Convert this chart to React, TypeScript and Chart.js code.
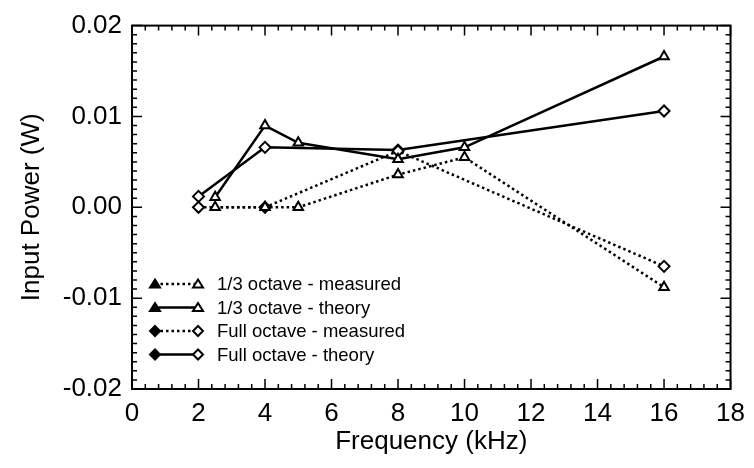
import React, { useEffect, useRef } from "react";
import { Chart, registerables } from "chart.js";

Chart.register(...registerables);

const thirdFreq = [2.5, 4, 5, 8, 10, 16];
const thirdMeasured = [0.0, 0.0, 0.0, 0.0036, 0.0055, -0.0088];
const thirdTheory = [0.0011, 0.009, 0.0071, 0.0053, 0.0066, 0.0166];
const fullFreq = [2, 4, 8, 16];
const fullMeasured = [0.0, 0.0, 0.0062, -0.0065];
const fullTheory = [0.0012, 0.0066, 0.0063, 0.0106];

const legendLabels = [
  "1/3 octave - measured",
  "1/3 octave - theory",
  "Full octave - measured",
  "Full octave - theory",
];
const yTickValues = [-0.02, -0.01, 0, 0.01, 0.02];
const xTickValues = [0, 2, 4, 6, 8, 10, 12, 14, 16, 18];

const FONT = "'Liberation Sans', Arial, Helvetica, sans-serif";

function pts(xs: number[], ys: number[]) {
  return xs.map((x, i) => ({ x, y: ys[i] }));
}

function drawMarker(ctx: CanvasRenderingContext2D, style: string, x: number, y: number, r: number, filled: boolean) {
  ctx.save();
  ctx.beginPath();
  if (style === "triangle") {
    const h = r * 1.5;
    ctx.moveTo(x, y - h * 0.6);
    ctx.lineTo(x + r * 1.0, y + h * 0.45);
    ctx.lineTo(x - r * 1.0, y + h * 0.45);
    ctx.closePath();
  } else {
    ctx.moveTo(x, y - r);
    ctx.lineTo(x + r, y);
    ctx.lineTo(x, y + r);
    ctx.lineTo(x - r, y);
    ctx.closePath();
  }
  ctx.fillStyle = filled ? "#000" : "#fff";
  ctx.fill();
  ctx.lineWidth = 2;
  ctx.strokeStyle = "#000";
  ctx.setLineDash([]);
  ctx.stroke();
  ctx.restore();
}

const framePlugin = {
  id: "frameTicks",
  afterDatasetsDraw(chart: any) {
    const { ctx, chartArea, scales } = chart;
    const { left, right, top, bottom } = chartArea;
    const xs = scales.x;
    const ys = scales.y;
    ctx.save();
    ctx.strokeStyle = "#000";
    ctx.lineWidth = 2;
    ctx.setLineDash([]);
    ctx.strokeRect(left, top, right - left, bottom - top);
    ctx.lineWidth = 1.5;
    for (let i = 0; i <= 45; i++) {
      const v = i * 0.4;
      const len = i % 5 === 0 ? 10 : 5;
      const px = xs.getPixelForValue(v);
      ctx.beginPath();
      ctx.moveTo(px, bottom);
      ctx.lineTo(px, bottom - len);
      ctx.moveTo(px, top);
      ctx.lineTo(px, top + len);
      ctx.stroke();
    }
    for (let i = -20; i <= 20; i++) {
      const v = i * 0.001;
      const len = i % 10 === 0 ? 10 : 5;
      const py = ys.getPixelForValue(v);
      ctx.beginPath();
      ctx.moveTo(left, py);
      ctx.lineTo(left + len, py);
      ctx.moveTo(right, py);
      ctx.lineTo(right - len, py);
      ctx.stroke();
    }
    // legend
    const lx0 = 155;
    const lx1 = 198;
    const rowY = [284, 307.5, 331, 354.5];
    ctx.font = `18.5px ${FONT}`;
    ctx.fillStyle = "#000";
    ctx.textBaseline = "middle";
    ctx.textAlign = "left";
    chart.data.datasets.forEach((ds: any, i: number) => {
      const y = rowY[i];
      ctx.beginPath();
      ctx.lineWidth = ds.borderWidth;
      ctx.setLineDash(ds.borderDash || []);
      ctx.moveTo(lx0, y);
      ctx.lineTo(lx1, y);
      ctx.stroke();
      ctx.setLineDash([]);
      drawMarker(ctx, ds.pointStyle, lx0, y, 5, true);
      drawMarker(ctx, ds.pointStyle, lx1, y, 5, false);
      ctx.fillText(ds.label, 217, y + 1);
    });
    ctx.restore();
  },
};

export default function App() {
  const ref = useRef<HTMLCanvasElement | null>(null);
  useEffect(() => {
    document.body.style.margin = "0";
    const canvas = ref.current!;
    const common = {
      borderColor: "#000",
      pointBackgroundColor: "#fff",
      pointBorderColor: "#000",
      pointBorderWidth: 2,
      pointRadius: 5.5,
      fill: false,
      tension: 0,
    };
    const chart = new Chart(canvas, {
      type: "scatter",
      data: {
        datasets: [
          {
            ...common,
            label: legendLabels[0],
            data: pts(thirdFreq, thirdMeasured),
            showLine: true,
            borderWidth: 2.5,
            borderDash: [2.5, 3],
            pointStyle: "triangle",
          },
          {
            ...common,
            label: legendLabels[1],
            data: pts(thirdFreq, thirdTheory),
            showLine: true,
            borderWidth: 2.5,
            pointStyle: "triangle",
          },
          {
            ...common,
            label: legendLabels[2],
            data: pts(fullFreq, fullMeasured),
            showLine: true,
            borderWidth: 2.5,
            borderDash: [2.5, 3],
            pointStyle: "rectRot",
          },
          {
            ...common,
            label: legendLabels[3],
            data: pts(fullFreq, fullTheory),
            showLine: true,
            borderWidth: 2.5,
            pointStyle: "rectRot",
          },
        ] as any,
      },
      options: {
        responsive: false,
        animation: false,
        layout: { padding: { top: 14, right: 19, left: 0, bottom: 0 } },
        plugins: { legend: { display: false }, tooltip: { enabled: false } },
        scales: {
          x: {
            type: "linear",
            min: 0,
            max: 18,
            afterFit: (s: any) => {
              s.height = 79;
            },
            afterBuildTicks: (s: any) => {
              s.ticks = xTickValues.map((v) => ({ value: v }));
            },
            grid: { display: false, drawTicks: false },
            border: { display: false },
            ticks: {
              color: "#000",
              font: { family: FONT, size: 26 },
              padding: 9,
              maxRotation: 0,
              callback: (v: any) => String(v),
            },
            title: {
              display: true,
              text: "Frequency (kHz)",
              color: "#000",
              font: { family: FONT, size: 26 },
              padding: { top: 0, bottom: 11 },
            },
          },
          y: {
            type: "linear",
            min: -0.02,
            max: 0.02,
            afterFit: (s: any) => {
              s.width = 132;
            },
            afterBuildTicks: (s: any) => {
              s.ticks = yTickValues.map((v) => ({ value: v }));
            },
            grid: { display: false, drawTicks: false },
            border: { display: false },
            ticks: {
              color: "#000",
              font: { family: FONT, size: 26 },
              padding: 10,
              callback: (v: any) => Number(v).toFixed(2),
            },
            title: {
              display: true,
              text: "Input Power (W)",
              color: "#000",
              font: { family: FONT, size: 26 },
              padding: { top: 16, bottom: 0 },
            },
          },
        },
      } as any,
      plugins: [framePlugin],
    });
    return () => chart.destroy();
  }, []);
  return (
    <div style={{ width: 754, height: 468 }}>
      <canvas ref={ref} width={754} height={468} style={{ display: "block" }} />
    </div>
  );
}
